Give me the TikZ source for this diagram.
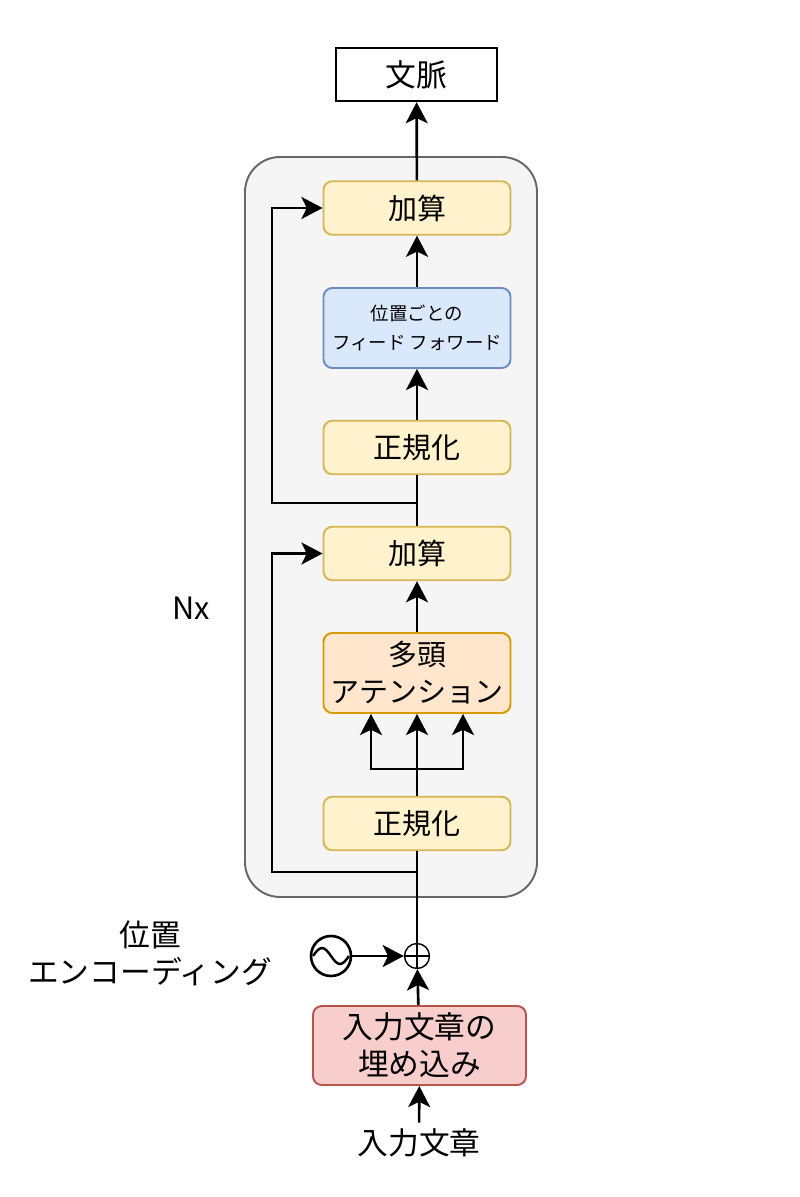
\documentclass[tikz,border=0pt]{standalone}
\usepackage{fontspec}
\setmainfont{Noto Sans CJK JP}
\usepackage{xcolor}
\usepackage{tikz}
\usetikzlibrary{arrows.meta, positioning, calc}
\definecolor{amarillo}{HTML}{FFF2CC}
\definecolor{amarillob}{HTML}{D6B656}
\definecolor{azul}{HTML}{DAE8FC}
\definecolor{azulb}{HTML}{6C8EBF}
\definecolor{naranja}{HTML}{FFE6CC}
\definecolor{naranjab}{HTML}{D79B00}
\definecolor{rojo}{HTML}{F8CECC}
\definecolor{rojob}{HTML}{B85450}
\definecolor{gris}{HTML}{F5F5F5}
\definecolor{grisb}{HTML}{666666}
\tikzset{
  every picture/.style={font=\fontsize{16.5}{21}\selectfont, >=Stealth},
  capa/.style={draw=amarillob, fill=amarillo, line width=1.1pt, rounded corners=5pt,
              minimum width=3.74cm, minimum height=1.07cm, align=center},
  ffn/.style={capa, draw=azulb, fill=azul, minimum height=1.6cm, font=\fontsize{10.5}{16}\selectfont},
  aten/.style={capa, draw=naranjab, fill=naranja, minimum height=1.6cm},
  emb/.style={capa, draw=rojob, fill=rojo, minimum width=4.26cm, minimum height=1.58cm,
              font=\fontsize{17.5}{21}\selectfont},
  salida/.style={draw, line width=1.4pt, minimum width=3.22cm, minimum height=1.06cm,
              font=\fontsize{17.5}{21}\selectfont},
  contenedor/.style={draw=grisb, fill=gris, line width=1.1pt, rounded corners=0.7cm},
  etiqueta/.style={font=\fontsize{17.5}{21}\selectfont, align=center},
  linea/.style={line width=1.5pt},
  flecha/.style={linea, -{Stealth[length=12pt, width=12.5pt, inset=3pt]}},
}
\begin{document}
\begin{tikzpicture}
  \useasboundingbox (0,0) rectangle (16,-23.94);
  \node[contenedor, minimum width=5.84cm, minimum height=14.8cm] (enc) at (7.82,-10.54) {};
  \node[salida] (ctx) at (8.33,-1.49) {文脈};
  \node[capa] (add2) at (8.34,-4.16) {加算};
  \node[ffn] (ff) at (8.34,-6.56) {位置ごとの\\フィード フォワード};
  \node[capa] (norm2) at (8.34,-8.95) {正規化};
  \node[capa] (add1) at (8.34,-11.07) {加算};
  \node[aten] (mha) at (8.34,-13.46) {多頭\\アテンション};
  \node[capa] (norm1) at (8.34,-16.47) {正規化};
  \node[circle, draw, line width=0.8pt, minimum size=0.5cm, inner sep=0] (suma) at (8.34,-19.12) {};
  \draw[line width=0.8pt] (suma.north) -- (suma.south) (suma.west) -- (suma.east);
  \node[circle, draw, line width=1.5pt, minimum size=0.8cm, inner sep=0] (pe) at (6.62,-19.12) {};
  \draw[line width=1.4pt] ([xshift=-0.36cm]pe.center) sin ++(0.18,0.16) cos ++(0.18,-0.16)
    sin ++(0.18,-0.16) cos ++(0.18,0.16);
  \node[emb] (inemb) at (8.39,-20.91) {入力文章の\\埋め込み};
  \node[etiqueta] (entrada) at (8.38,-22.86) {入力文章};
  \node[etiqueta] (pelab) at (3.0,-19.06) {位置\\エンコーディング};
  \node[etiqueta] (nx) at (3.82,-12.16) {Nx};
  % conexiones
  \coordinate (r1) at (8.34,-17.44);
  \coordinate (r2) at (8.34,-10.06);
  \coordinate (rama) at (8.34,-15.38);
  \draw[flecha] (entrada) -- (inemb);
  \draw[flecha] (inemb) -- (suma);
  \draw[flecha] (pe) -- (suma);
  \draw[linea] (suma) -- (norm1);
  \draw[linea] (norm1) -- (rama);
  \draw[flecha] (rama) -- (mha);
  \draw[flecha] (rama) -| ([xshift=-0.92cm]mha.south);
  \draw[flecha] (rama) -| ([xshift=0.92cm]mha.south);
  \draw[flecha] (mha) -- (add1);
  \draw[flecha] (r1) -| ($(add1.west)+(-1.01,0)$) -- (add1.west);
  \draw[linea] (add1) -- (norm2);
  \draw[flecha] (norm2) -- (ff);
  \draw[flecha] (ff) -- (add2);
  \draw[flecha] (r2) -| ($(add2.west)+(-1.01,0)$) -- (add2.west);
  \draw[flecha] (add2) -- (ctx);
\end{tikzpicture}
\end{document}
